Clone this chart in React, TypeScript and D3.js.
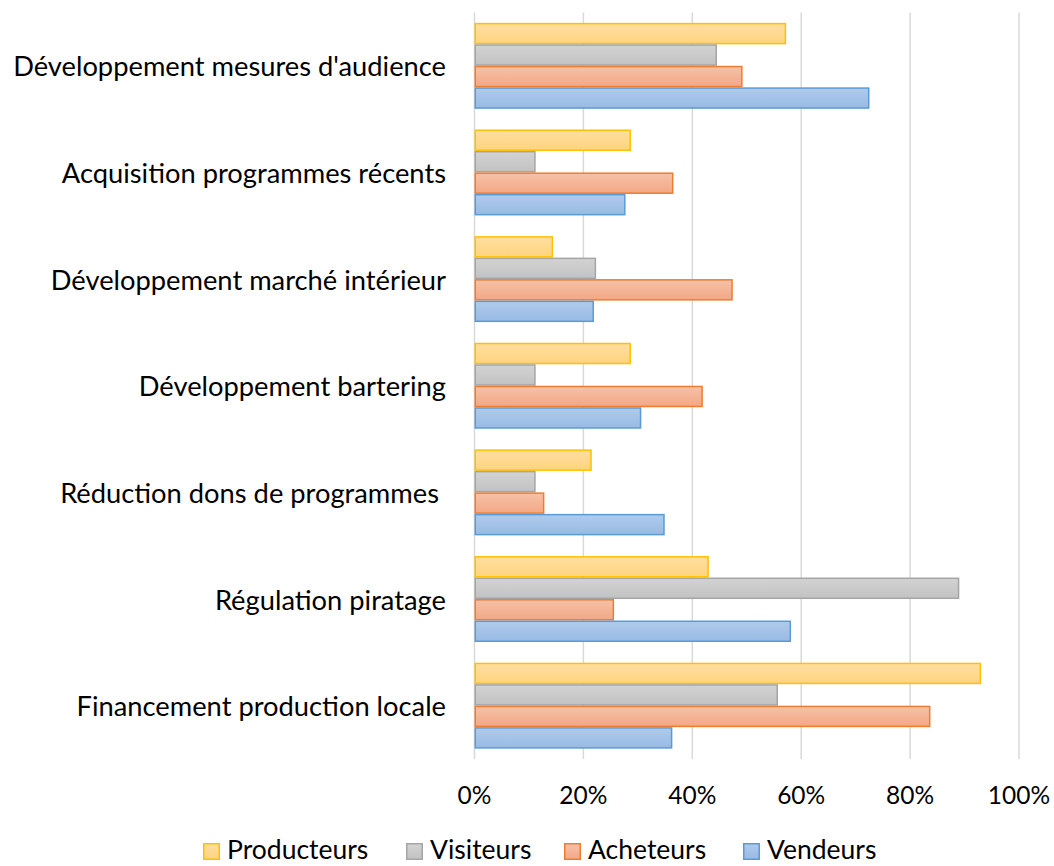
import React from "react";
import * as d3 from "d3";

const categories = [
  "Développement mesures d'audience",
  "Acquisition programmes récents",
  "Développement marché intérieur",
  "Développement bartering",
  "Réduction dons de programmes ",
  "Régulation piratage",
  "Financement production locale",
];
const seriesNames = ["Producteurs", "Visiteurs", "Acheteurs", "Vendeurs"];
const producteurs = [57.1, 28.6, 14.3, 28.6, 21.4, 42.9, 92.9];
const visiteurs = [44.4, 11.1, 22.2, 11.1, 11.1, 88.9, 55.6];
const acheteurs = [49.1, 36.4, 47.3, 41.8, 12.7, 25.5, 83.6];
const vendeurs = [72.4, 27.6, 21.8, 30.5, 34.8, 58.0, 36.2];
const xTicks = [0, 20, 40, 60, 80, 100];

const seriesValues = [producteurs, visiteurs, acheteurs, vendeurs];
const strokeColors = ["#FFC000", "#A5A5A5", "#ED7D31", "#5B9BD5"];
const gradTop = ["#FFDEA0", "#D3D3D3", "#F6C1A7", "#B0CBEB"];
const gradBottom = ["#FFD47F", "#C2C2C2", "#F3A886", "#98BAE4"];

const FONT = "Lato, 'Open Sans', sans-serif";
const FS = 27.3;
const FS_TICK = 24.5;
const FS_LEG = 26.5;

export default function App() {
  const x = d3.scaleLinear().domain([0, 100]).range([474.5, 1019]);
  const y = d3
    .scaleBand<string>()
    .domain(categories)
    .range([12.5, 759])
    .paddingInner(0.194)
    .paddingOuter(0.097);
  const inner = d3
    .scaleBand<string>()
    .domain(seriesNames)
    .range([0, y.bandwidth()]);

  const legendX = [203, 406, 564, 743];

  return (
    <svg
      width={1054}
      height={866}
      style={{ position: "absolute", left: 0, top: 0, display: "block", background: "#fff" }}
      fontFamily={FONT}
    >
      <defs>
        {seriesNames.map((s, i) => (
          <linearGradient key={s} id={`g${i}`} x1="0" y1="0" x2="0" y2="1">
            <stop offset="0" stopColor={gradTop[i]} />
            <stop offset="1" stopColor={gradBottom[i]} />
          </linearGradient>
        ))}
      </defs>
      {xTicks.map((t) => (
        <line
          key={t}
          x1={x(t)}
          x2={x(t)}
          y1={12.5}
          y2={759}
          stroke="#D9D9D9"
          strokeWidth={1.5}
        />
      ))}
      {categories.map((c, ci) => (
        <g key={c} transform={`translate(0,${y(c)})`}>
          {seriesNames.map((s, si) => {
            const v = seriesValues[si][ci];
            return (
              <rect
                key={s}
                x={x(0) + 0.75}
                y={(inner(s) as number) + 0.75}
                width={x(v) - x(0) - 0.75}
                height={inner.bandwidth() - 1.5}
                fill={`url(#g${si})`}
                stroke={strokeColors[si]}
                strokeWidth={1.5}
              />
            );
          })}
        </g>
      ))}
      {categories.map((c) => (
        <text
          key={c}
          x={446}
          y={(y(c) as number) + y.bandwidth() / 2}
          textAnchor="end"
          dominantBaseline="central"
          fontSize={FS}
          fill="#000"
          style={{ whiteSpace: "pre" }}
        >
          {c}
        </text>
      ))}
      {xTicks.map((t) => (
        <text key={t} x={x(t)} y={804} textAnchor="middle" fontSize={FS_TICK} fill="#000">
          {`${t}%`}
        </text>
      ))}
      {seriesNames.map((s, i) => (
        <g key={s} transform={`translate(${legendX[i]},843)`}>
          <rect x={0.75} y={0.75} width={15.5} height={15.5} fill={`url(#g${i})`} stroke={strokeColors[i]} strokeWidth={1.5} />
          <text x={24} y={16} fontSize={FS_LEG} fill="#000">
            {s}
          </text>
        </g>
      ))}
    </svg>
  );
}
